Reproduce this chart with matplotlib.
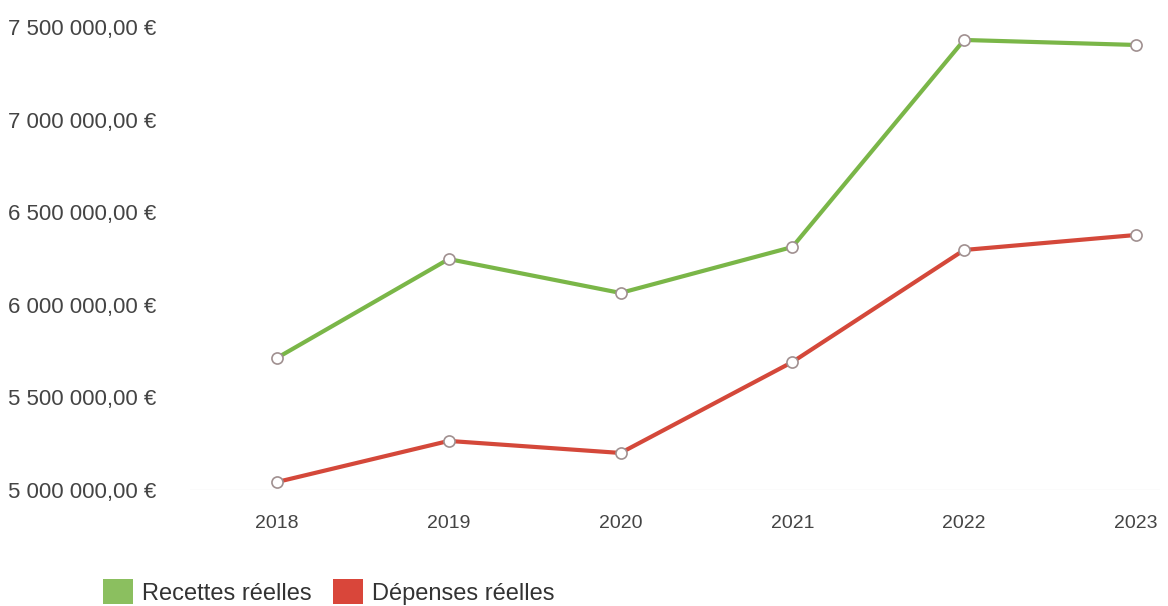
import matplotlib
matplotlib.use("Agg")
import matplotlib.pyplot as plt
from matplotlib.patches import Patch

plt.rcParams['font.family'] = ['Liberation Sans', 'DejaVu Sans']

years = [2018, 2019, 2020, 2021, 2022, 2023]
recettes = [5713000, 6247000, 6064000, 6312000, 7430000, 7403000]
depenses = [5043000, 5265000, 5200000, 5691000, 6296000, 6377000]
yticks = [5000000, 5500000, 6000000, 6500000, 7000000, 7500000]
ytick_labels = ["5 000 000,00 €", "5 500 000,00 €", "6 000 000,00 €",
                "6 500 000,00 €", "7 000 000,00 €", "7 500 000,00 €"]
series_names = ["Recettes réelles", "Dépenses réelles"]

green = "#7ab648"
red = "#d4483a"
W, H = 1168, 606
fig = plt.figure(figsize=(W / 100, H / 100), dpi=100)
left, right = 190 / W, 1160 / W
bottom, top = 1 - 490 / H, 1 - 27 / H
ax = fig.add_axes([left, bottom, right - left, top - bottom])

for vals, col in [(recettes, green), (depenses, red)]:
    ax.plot(years, vals, color=col, lw=3, marker="o", ms=8,
            mfc="white", mec="#a09090", mew=1.2, clip_on=False, zorder=3)

ax.set_xlim(2017.494, 2023.14)
ax.set_ylim(5000000, 7500000)
ax.set_yticks(yticks)
ax.set_yticklabels(ytick_labels)
ax.set_xticks(years)
ax.set_xticklabels([str(y) for y in years])
for s in ax.spines.values():
    s.set_visible(False)
ax.tick_params(axis="both", length=0, labelcolor="#444444")
ax.tick_params(axis="y", pad=131, labelsize=16)
for lab in ax.get_yticklabels():
    lab.set_ha("left")
ax.tick_params(axis="x", pad=18, labelsize=14)
ax.axhline(5000000, color="#eeeeee", lw=1, zorder=0)

handles = [Patch(facecolor="#8bbf5f", edgecolor="none"),
           Patch(facecolor="#d9463a", edgecolor="none")]
fig.legend(handles, series_names, loc="upper left",
           bbox_to_anchor=(94 / W, 1 - 570 / H), ncol=2, frameon=False,
           fontsize=17, handlelength=1.25, handleheight=1.25,
           handletextpad=0.4, columnspacing=0.9, borderaxespad=0,
           labelcolor="#333333")

fig.savefig("out.png", dpi=100)
